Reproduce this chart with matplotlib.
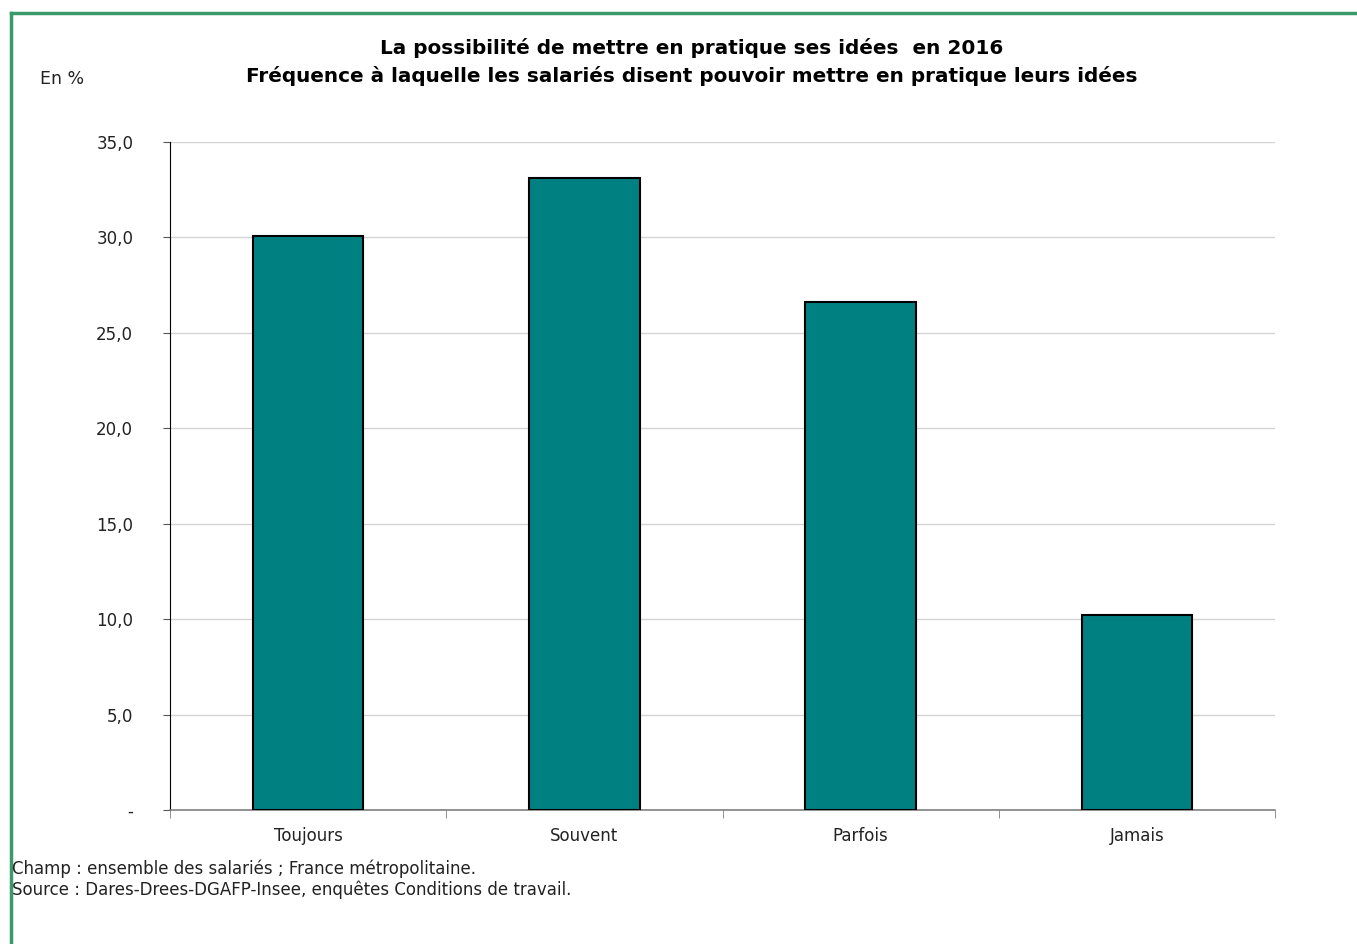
import matplotlib.pyplot as plt
from matplotlib.lines import Line2D

categories = ['Toujours', 'Souvent', 'Parfois', 'Jamais']
values = [30.1, 33.1, 26.6, 10.2]
yticks = [0, 5, 10, 15, 20, 25, 30, 35]
ytick_labels = ['-', '5,0', '10,0', '15,0', '20,0', '25,0', '30,0', '35,0']

title = ("La possibilité de mettre en pratique ses idées  en 2016\n"
         "Fréquence à laquelle les salariés disent pouvoir mettre en pratique leurs idées")
notes = ("Champ : ensemble des salariés ; France métropolitaine.\n"
         "Source : Dares-Drees-DGAFP-Insee, enquêtes Conditions de travail.")

plt.rcParams['font.family'] = ['DejaVu Sans']

fig = plt.figure(figsize=(13.57, 9.44), dpi=100)
ax = fig.add_axes([170/1357, 1 - 810/944, 1105/1357, 668/944])

x = range(len(categories))
ax.bar(x, values, width=0.4, color='#008080', edgecolor='black', linewidth=1.5, zorder=3)

ax.set_xlim(-0.5, len(categories) - 0.5)
ax.set_ylim(0, 35)
ax.set_yticks(yticks)
ax.set_yticklabels(ytick_labels, fontsize=12, color='#222222')
ax.yaxis.grid(True, color='#d4d4d4', linewidth=1, zorder=0)

ax.set_xticks(list(x))
ax.set_xticklabels(categories, fontsize=12, color='#222222')
ax.tick_params(axis='x', length=0, pad=12.5)
ax.set_xticks([i - 0.5 for i in range(len(categories) + 1)], minor=True)
ax.tick_params(axis='x', which='minor', length=6, color='#808080', direction='out')
ax.tick_params(axis='y', length=5, direction='out', pad=21.5, color='#555555')

for s in ['top', 'right']:
    ax.spines[s].set_visible(False)
ax.spines['left'].set_color('black')
ax.spines['bottom'].set_color('#808080')
ax.spines['bottom'].set_linewidth(1.2)

fig.text(692/1357, 1 - 61.5/944, title, ha='center', va='center',
         fontsize=14.4, fontweight='bold', linespacing=1.5)
fig.text(40/1357, 1 - 79/944, 'En %', ha='left', va='center', fontsize=12.5,
         color='#222222')
fig.text(12/1357, 1 - 879/944, notes, ha='left', va='center', fontsize=12,
         linespacing=1.2, color='#222222')

# green frame, top and left sides
green = '#3a9a6a'
fig.add_artist(Line2D([11/1357, 1], [1 - 13/944] * 2, color=green, linewidth=2.5,
                      transform=fig.transFigure))
fig.add_artist(Line2D([11/1357] * 2, [0, 1 - 13/944], color=green, linewidth=2.5,
                      transform=fig.transFigure))

fig.savefig('out.png', dpi=100)
